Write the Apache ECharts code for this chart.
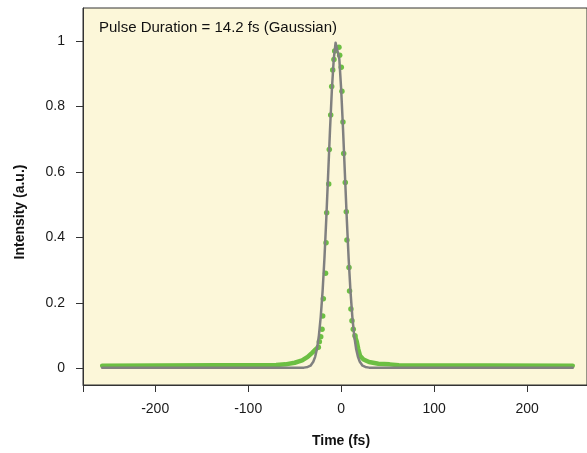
<!DOCTYPE html>
<html>
<head>
<meta charset="utf-8">
<script src="https://cdn.jsdelivr.net/npm/echarts@6/dist/echarts.min.js"></script>
<style>
html,body{margin:0;padding:0;background:#ffffff;}
#chart{width:587px;height:453px;}
</style>
</head>
<body>
<div id="chart"></div>
<script>
// ---- data ----
var xTickValues = [-200, -100, 0, 100, 200];
var yTickValues = [0, 0.2, 0.4, 0.6, 0.8, 1];

// measured points (green dots) near the peak
var dotTime = [-24.6, -23.5, -22.0, -20.6, -19.9, -19.2, -16.8, -16.3, -15.6, -13.4, -12.8, -11.3, -10.2, -9.1, -7.8, -7.0,
               -2.4, -1.6, 0.1, 0.8, 1.9, 2.7, 4.4, 5.5, 6.2, 8.4, 9.0, 10.5, 11.6, 13.0, 14.8];
var dotInt  = [0.064, 0.081, 0.096, 0.119, 0.160, 0.212, 0.290, 0.383, 0.475, 0.563, 0.668, 0.773, 0.860, 0.911, 0.943, 0.969,
               0.980, 0.956, 0.919, 0.846, 0.752, 0.656, 0.567, 0.478, 0.392, 0.308, 0.236, 0.181, 0.145, 0.119, 0.099];

// dense measured points forming the green band in the wings
var leftWingTime = [-257, -70, -60, -50, -42, -36, -31, -27.5, -24.6];
var leftWingInt  = [0.008, 0.010, 0.012, 0.017, 0.024, 0.035, 0.048, 0.058, 0.064];
var rightWingTime = [14.8, 16.7, 18.4, 20.3, 24, 30, 40, 52, 62, 249];
var rightWingInt  = [0.099, 0.082, 0.058, 0.038, 0.027, 0.019, 0.014, 0.012, 0.009, 0.008];

// Gaussian fit curve (gray)
var fitTime = [-257, -45, -40, -36, -33, -30, -28, -26, -24, -22, -20, -18, -16, -14, -12, -10, -8, -6, -5, -4, -2, 0, 2, 4, 6, 8, 10, 12, 14, 16, 18, 20, 23, 26, 30, 35, 249];
var fitInt  = [0.002, 0.002, 0.002, 0.004, 0.008, 0.020, 0.035, 0.060, 0.099, 0.157, 0.235, 0.336, 0.458, 0.593, 0.729, 0.851, 0.944, 0.994, 1.000, 0.994, 0.944, 0.851, 0.729, 0.593, 0.458, 0.336, 0.235, 0.157, 0.099, 0.060, 0.035, 0.020, 0.008, 0.004, 0.002, 0.002, 0.002];

var annotation = 'Pulse Duration = 14.2 fs (Gaussian)';
var xTitle = 'Time (fs)';
var yTitle = 'Intensity (a.u.)';

function zip(a, b) { return a.map(function (v, i) { return [v, b[i]]; }); }

var X_MIN = -277.6, X_MAX = 264.3;
var Y_MIN = -0.051, Y_MAX = 1.1;

var chart = echarts.init(document.getElementById('chart'), null, {renderer: 'canvas'});
var FONT = '"Liberation Sans", Arial, sans-serif';
var GREEN = '#6cbf43';
var GRAY = '#808080';
var AXIS = '#333333';

chart.setOption({
  animation: false,
  backgroundColor: '#ffffff',
  grid: {
    left: 83, top: 8, right: -2, bottom: 68,
    show: true,
    backgroundColor: '#fcf7d9',
    borderColor: AXIS,
    borderWidth: 1
  },
  xAxis: {
    type: 'value',
    min: X_MIN, max: X_MAX,
    axisLine: {show: true, onZero: false, lineStyle: {color: AXIS, width: 1}},
    axisTick: {show: true, length: 7, lineStyle: {color: AXIS}, customValues: [X_MIN].concat(xTickValues)},
    axisLabel: {customValues: xTickValues, margin: 17, color: '#1a1a1a', fontSize: 14, fontFamily: FONT},
    splitLine: {show: false}
  },
  yAxis: {
    type: 'value',
    min: Y_MIN, max: Y_MAX,
    axisLine: {show: true, onZero: false, lineStyle: {color: AXIS, width: 1}},
    axisTick: {show: true, length: 7, lineStyle: {color: AXIS}, customValues: yTickValues},
    axisLabel: {customValues: yTickValues, margin: 18, color: '#1a1a1a', fontSize: 14, fontFamily: FONT},
    splitLine: {show: false}
  },
  graphic: [
    {type: 'text', left: 99, top: 20, style: {text: annotation, fill: '#111', font: '15px ' + FONT}},
    {type: 'text', x: 341, y: 441, style: {text: xTitle, fill: '#111', font: 'bold 14px ' + FONT, textAlign: 'center', textVerticalAlign: 'middle'}},
    {type: 'text', x: 20, y: 212, rotation: Math.PI / 2, style: {text: yTitle, fill: '#111', font: 'bold 14px ' + FONT, textAlign: 'center', textVerticalAlign: 'middle'}}
  ],
  series: [
    {type: 'line', data: zip(leftWingTime, leftWingInt), showSymbol: false, symbol: 'none',
     lineStyle: {color: GREEN, width: 4.5, cap: 'round', join: 'round'}, silent: true},
    {type: 'line', data: zip(rightWingTime, rightWingInt), showSymbol: false, symbol: 'none',
     lineStyle: {color: GREEN, width: 4.5, cap: 'round', join: 'round'}, silent: true},
    {type: 'line', data: zip(fitTime, fitInt), showSymbol: false, symbol: 'none',
     lineStyle: {color: GRAY, width: 2.5, cap: 'round', join: 'round'}, silent: true},
    {type: 'scatter', data: zip(dotTime, dotInt), symbol: 'circle', symbolSize: 5.5,
     itemStyle: {color: GREEN, opacity: 1}, silent: true}
  ]
});
</script>
</body>
</html>
